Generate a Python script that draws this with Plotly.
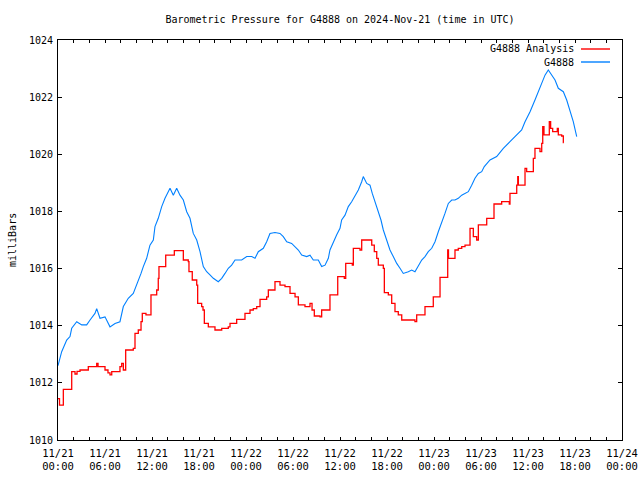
import pandas as pd
import plotly.graph_objects as go

# hours since 2024-11-21 00:00 UTC
station_hours = [0.0, 0.13, 0.47, 1.11, 1.53, 1.75, 2.39, 3.03, 3.66, 4.09, 4.72, 4.94, 5.36, 6.0,
                 6.64, 7.28, 7.91, 8.34, 8.97, 9.61, 10.05, 10.6, 10.89, 11.32, 11.74, 12.17, 12.38,
                 12.8, 13.24, 13.66, 14.3, 14.72, 15.15, 15.57, 16.0, 16.43, 16.85, 17.27, 17.71,
                 18.13, 18.55, 18.98, 19.4, 19.83, 20.46, 20.9, 21.32, 21.74, 22.17, 22.6, 23.45,
                 24.09, 24.73, 25.15, 25.57, 26.21, 26.64, 27.06, 27.7, 28.34, 28.76, 29.2, 29.83,
                 30.26, 30.68, 31.11, 31.75, 32.17, 32.59, 33.23, 33.66, 34.09, 34.51, 34.72, 35.14,
                 35.58, 36.0, 36.21, 36.64, 37.06, 37.49, 37.91, 38.34, 38.77, 38.97, 39.41, 39.83,
                 40.12, 40.47, 40.89, 41.23, 41.53, 41.96, 42.38, 42.8, 43.24, 43.66, 44.08, 44.72,
                 45.15, 45.57, 46.0, 46.43, 46.85, 47.27, 47.71, 48.13, 48.55, 48.98, 49.4, 49.83,
                 50.26, 50.68, 51.1, 51.54, 51.96, 52.38, 52.81, 53.23, 53.66, 54.09, 54.42, 55.15,
                 56.0, 56.85, 57.7, 58.56, 59.19, 59.62, 60.26, 60.89, 61.32, 61.75, 62.17, 62.59,
                 63.03, 63.45, 63.87, 64.51, 64.94, 65.36, 65.78, 66.22]
station_mb = [1012.6, 1012.74, 1013.09, 1013.5, 1013.62, 1013.91, 1014.14, 1014.03, 1014.03, 1014.2,
              1014.43, 1014.6, 1014.26, 1014.31, 1013.96, 1014.08, 1014.14, 1014.67, 1014.96, 1015.13,
              1015.42, 1015.83, 1016.07, 1016.36, 1016.82, 1017.0, 1017.47, 1017.76, 1018.17, 1018.46,
              1018.81, 1018.57, 1018.81, 1018.57, 1018.4, 1017.99, 1017.76, 1017.23, 1017.0, 1016.59,
              1016.07, 1015.89, 1015.78, 1015.66, 1015.54, 1015.66, 1015.83, 1016.01, 1016.12, 1016.3,
              1016.3, 1016.42, 1016.42, 1016.36, 1016.59, 1016.71, 1016.94, 1017.23, 1017.26, 1017.23,
              1017.12, 1016.94, 1016.88, 1016.77, 1016.65, 1016.47, 1016.42, 1016.47, 1016.3, 1016.3,
              1016.07, 1016.12, 1016.36, 1016.65, 1016.94, 1017.18, 1017.41, 1017.7, 1017.87, 1018.17,
              1018.34, 1018.52, 1018.75, 1019.04, 1019.22, 1018.98, 1018.92, 1018.63, 1018.34, 1018.05,
              1017.7, 1017.35, 1017.0, 1016.65, 1016.42, 1016.18, 1016.01, 1015.83, 1015.89, 1015.95,
              1015.89, 1016.12, 1016.3, 1016.42, 1016.59, 1016.71, 1016.94, 1017.29, 1017.58, 1017.93,
              1018.28, 1018.4, 1018.4, 1018.46, 1018.57, 1018.63, 1018.69, 1018.92, 1019.16, 1019.33,
              1019.39, 1019.57, 1019.8, 1019.92, 1020.21, 1020.44, 1020.68, 1020.85, 1021.14, 1021.49,
              1021.9, 1022.19, 1022.54, 1022.77, 1022.95, 1022.77, 1022.6, 1022.31, 1022.19, 1021.9,
              1021.55, 1021.14, 1020.62]

analysis_hours = [0.0, 0.19, 0.68, 1.75, 2.17, 2.43, 2.81, 3.87, 4.94, 5.11, 6.0, 6.38, 6.64, 6.86,
                  7.91, 8.13, 8.34, 8.64, 9.61, 9.83, 10.25, 10.6, 10.76, 11.23, 11.87, 12.6, 12.8,
                  12.89, 13.75, 14.85, 16.0, 16.63, 16.72, 17.14, 17.71, 17.83, 18.34, 18.51, 18.68,
                  19.19, 20.04, 20.9, 21.74, 21.96, 22.81, 23.87, 24.51, 24.93, 25.37, 25.79, 26.64,
                  26.85, 27.7, 28.34, 28.98, 29.62, 30.26, 30.68, 31.53, 32.17, 32.43, 32.72, 33.45,
                  33.66, 34.72, 35.71, 36.55, 36.73, 37.57, 37.7, 38.55, 38.77, 40.05, 40.38, 40.69,
                  40.89, 41.53, 41.66, 42.17, 42.6, 43.02, 43.44, 43.88, 45.57, 45.79, 46.85, 47.91,
                  48.77, 49.75, 49.85, 50.68, 51.1, 51.54, 51.96, 52.6, 53.02, 53.45, 53.66, 54.73,
                  55.66, 56.64, 57.61, 57.7, 58.56, 58.69, 58.77, 59.62, 59.83, 60.68, 60.89, 61.53,
                  61.75, 61.88, 62.04, 62.72, 62.89, 63.15, 63.74, 63.87, 64.3, 64.51, 64.57]
analysis_mb = [1011.45, 1011.22, 1011.77, 1012.39, 1012.31, 1012.4, 1012.45, 1012.57, 1012.68, 1012.57,
               1012.45, 1012.35, 1012.28, 1012.39, 1012.57, 1012.68, 1012.45, 1013.15, 1013.21, 1013.73,
               1013.85, 1014.14, 1014.43, 1014.38, 1015.08, 1015.25, 1015.66, 1016.07, 1016.47, 1016.63,
               1016.3, 1016.24, 1015.89, 1015.6, 1015.42, 1014.78, 1014.67, 1014.55, 1014.08, 1013.96,
               1013.85, 1013.91, 1013.96, 1014.08, 1014.22, 1014.43, 1014.55, 1014.6, 1014.67, 1014.92,
               1015.01, 1015.25, 1015.54, 1015.42, 1015.37, 1015.13, 1015.01, 1014.73, 1014.67, 1014.78,
               1014.55, 1014.34, 1014.31, 1014.55, 1015.08, 1015.72, 1015.66, 1016.18, 1016.12, 1016.71,
               1016.65, 1017.0, 1016.82, 1016.59, 1016.36, 1016.12, 1016.01, 1015.16, 1015.08, 1014.78,
               1014.49, 1014.38, 1014.2, 1014.14, 1014.38, 1014.67, 1015.01, 1015.69, 1016.65, 1016.36,
               1016.65, 1016.71, 1016.77, 1016.82, 1017.41, 1017.12, 1017.0, 1017.53, 1017.76, 1018.26,
               1018.34, 1018.26, 1018.63, 1018.92, 1019.22, 1018.92, 1019.51, 1019.39, 1019.86, 1020.21,
               1020.09, 1020.38, 1020.97, 1020.68, 1021.14, 1020.91, 1020.79, 1020.91, 1020.68, 1020.64,
               1020.41, 1020.41]

tick_hours = [0, 6, 12, 18, 24, 30, 36, 42, 48, 54, 60, 66, 72]
tick_labels = ["11/21<br>00:00", "11/21<br>06:00", "11/21<br>12:00", "11/21<br>18:00",
               "11/22<br>00:00", "11/22<br>06:00", "11/22<br>12:00", "11/22<br>18:00",
               "11/23<br>00:00", "11/23<br>06:00", "11/23<br>12:00", "11/23<br>18:00",
               "11/24<br>00:00"]
y_ticks = [1010, 1012, 1014, 1016, 1018, 1020, 1022, 1024]

base = pd.Timestamp("2024-11-21 00:00")
to_t = lambda hrs: [base + pd.Timedelta(hours=h) for h in hrs]

FONT = "DejaVu Sans Mono, Liberation Mono, monospace"
RED = "#ff0000"
BLUE = "#0080ff"

fig = go.Figure()
fig.add_trace(go.Scatter(x=to_t(analysis_hours), y=analysis_mb, mode="lines",
                         line=dict(color=RED, width=1.3, shape="hv"),
                         name="G4888 Analysis", showlegend=False))
fig.add_trace(go.Scatter(x=to_t(station_hours), y=station_mb, mode="lines",
                         line=dict(color=BLUE, width=1.1),
                         name="G4888", showlegend=False))

fig.update_layout(
    width=640, height=480,
    margin=dict(l=58, r=18, t=40, b=40, autoexpand=False),
    paper_bgcolor="white", plot_bgcolor="white",
    font=dict(family=FONT, size=10, color="black"),
    title=dict(text="Barometric Pressure for G4888 on 2024-Nov-21 (time in UTC)",
               x=(58 + 622) / 2 / 640, xanchor="center", y=1 - 19 / 480, yanchor="middle",
               yref="container", font=dict(family=FONT, size=10, color="black")),
)

fig.update_xaxes(
    range=[base, base + pd.Timedelta(hours=72)],
    tickvals=to_t(tick_hours), ticktext=tick_labels,
    ticks="inside", ticklen=3, tickcolor="black", tickwidth=1,
    minor=dict(dtick=2 * 3600 * 1000, ticks="inside", ticklen=3, tickcolor="black", showgrid=False),
    showline=True, linecolor="black", linewidth=1, mirror="allticks",
    showgrid=False, zeroline=False, tickangle=0, ticklabelstandoff=3, automargin=False,
    tickfont=dict(family=FONT, size=10.5),
)
fig.update_yaxes(
    range=[1010, 1024], tickvals=y_ticks,
    ticks="inside", ticklen=4, tickcolor="black", tickwidth=1,
    showline=True, linecolor="black", linewidth=1, mirror="allticks",
    showgrid=False, zeroline=False, ticklabelstandoff=2, automargin=False,
)

# y axis label
fig.add_annotation(text="milliBars", xref="paper", yref="paper", x=(12 - 58) / 564, y=0.5,
                   textangle=-90, showarrow=False, xanchor="center", yanchor="middle",
                   font=dict(family=FONT, size=10))

# gnuplot-style key (text right, sample line to the right)
key = [("G4888 Analysis", RED, 49), ("G4888", BLUE, 62)]
for label, color, ypx in key:
    yp = (440 - ypx) / 400
    fig.add_annotation(text=label, xref="paper", yref="paper", x=(576 - 58) / 564, y=yp,
                       xanchor="right", yanchor="middle", showarrow=False,
                       font=dict(family=FONT, size=10))
    fig.add_shape(type="line", xref="paper", yref="paper",
                  x0=(581 - 58) / 564, x1=(610 - 58) / 564, y0=yp, y1=yp,
                  line=dict(color=color, width=1.4))

fig.write_html("out.html", config={"displayModeBar": False},
               post_script="document.body.style.margin='0';")
